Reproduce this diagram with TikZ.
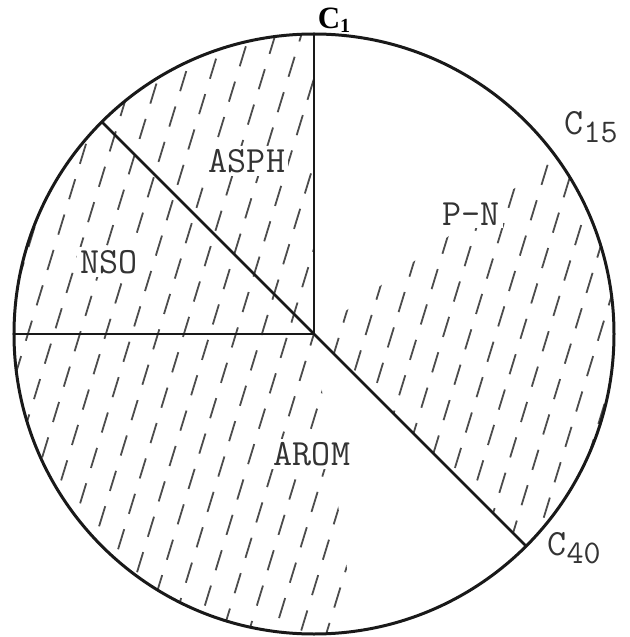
\documentclass[tikz,border=0pt]{standalone}
\usepackage{fontspec}
\setmainfont{Liberation Serif}
\usepackage{tikz}
\usetikzlibrary{positioning,calc}

\newcommand{\typed}{\ttfamily\addfontfeatures{FakeBold=0.6}\fontsize{37}{37}\selectfont}

\begin{document}
\begin{tikzpicture}[
    x=1pt, y=1pt,
    rim/.style={draw=black!90, line width=3pt},
    sector/.style={draw=black!90, line width=2.6pt},
    hatchline/.style={draw=black!70, line width=1.8pt, dash pattern=on 21pt off 16pt},
    cutlabel/.style={text=black!80, font=\typed, inner sep=1pt},
    fraction/.style={text=black!80, fill=white, font=\typed, inner sep=3pt}
]
\useasboundingbox (-314,-303) rectangle (315,334);

% centre and ends of the radii
\coordinate (o) at (0,0);
\coordinate (top) at (90:300);
\coordinate (ul) at (135:300);
\coordinate (left) at (180:300);
\coordinate (lr) at (-45:300);

% dashed hatching
\begin{scope}
\clip (o) -- (90:300) arc[start angle=90, end angle=278, radius=300] -- cycle
      (o) -- (-45:300) arc[start angle=-45, end angle=36, radius=300] -- cycle;
\foreach \k [evaluate=\k as \ph using {mod(abs(\k)*13,37)}] in {-30,...,30}
    \draw[hatchline, dash phase=\ph pt] ({\k*26-101},-330) -- ++(73:690);
\end{scope}

% circle and radii
\draw[rim] (o) circle[radius=300];
\draw[sector] (o) -- (top);
\draw[sector] (o) -- (ul);
\draw[sector] (o) -- (left);
\draw[sector] (o) -- (lr);

% fractions
\node[fraction] (asph) at (-67,173) {ASPH};
\node[fraction] (nso) at (-205,72) {NSO};
\node[fraction] (pn) at (157,120) {P-N};
\node[fraction] (arom) at (-2,-120) {AROM};

% carbon numbers
\node[font=\bfseries\fontsize{31}{31}\selectfont, inner sep=0pt] (c1) at (20,314) {C\raisebox{-4pt}{\fontsize{20}{20}\selectfont 1}};
\node[cutlabel] (c15) at (277,207) {C\raisebox{-8pt}{\fontsize{33}{33}\selectfont 15}};
\node[cutlabel] (c40) at (260,-214) {C\raisebox{-8pt}{\fontsize{33}{33}\selectfont 40}};

\end{tikzpicture}
\end{document}
